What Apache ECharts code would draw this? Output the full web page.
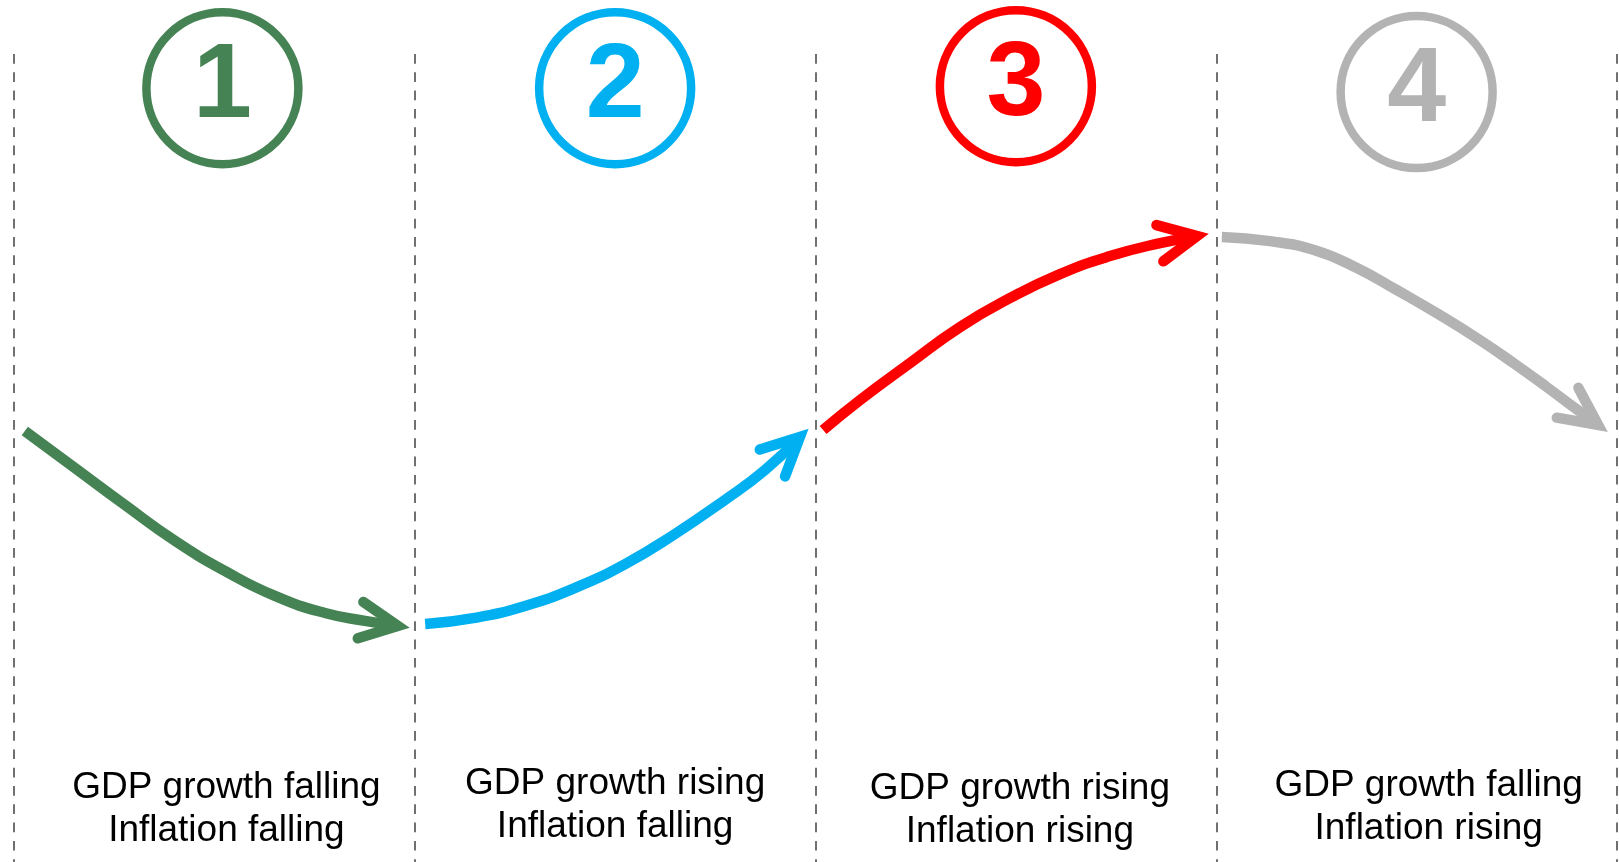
<!DOCTYPE html>
<html>
<head>
<meta charset="utf-8">
<title>Economic cycle phases</title>
<script src="https://cdn.jsdelivr.net/npm/echarts@6/dist/echarts.min.js"></script>
<style>
  html, body { margin: 0; padding: 0; background: #ffffff; }
  #chart { width: 1619px; height: 862px; }
</style>
</head>
<body>
<div id="chart"></div>
<script>
// Phase numbers and captions
const phaseNumbers = ['1', '2', '3', '4'];
const phaseCaptions = [
  'GDP growth falling\nInflation falling',
  'GDP growth rising\nInflation falling',
  'GDP growth rising\nInflation rising',
  'GDP growth falling\nInflation rising'
];

// Cycle path for each phase: [phase position, cycle level] (level +1 = peak, -1 = trough)
const phase1Path = [[0.027, 0.000], [0.152, -0.189], [0.277, -0.378], [0.402, -0.561], [0.526, -0.714],
                    [0.651, -0.842], [0.776, -0.929], [0.876, -0.969], [0.958, -0.995]];
const phase2Path = [[1.026, -0.985], [1.150, -0.954], [1.275, -0.893], [1.400, -0.801], [1.525, -0.679],
                    [1.649, -0.526], [1.774, -0.352], [1.874, -0.199], [1.961, -0.031]];
const phase3Path = [[2.019, 0.005], [2.111, 0.158], [2.236, 0.347], [2.361, 0.531], [2.486, 0.679],
                    [2.610, 0.801], [2.735, 0.893], [2.860, 0.959], [2.952, 0.995]];
const phase4Path = [[3.014, 0.990], [3.134, 0.969], [3.246, 0.923], [3.351, 0.832], [3.451, 0.719],
                    [3.558, 0.592], [3.658, 0.464], [3.745, 0.342], [3.825, 0.224], [3.895, 0.117],
                    [3.953, 0.031]];

// ---- layout & style ----
const COLORS = ['#468354', '#00b0f0', '#ff0000', '#b3b3b3'];
const FONT = "'Liberation Sans', Arial, Helvetica, sans-serif";
const badgePos = [[0.52, 1.75], [1.50, 1.75], [2.50, 1.76], [3.50, 1.73]];
const captionPos = [[0.53, -1.93], [1.50, -1.91], [2.51, -1.935], [3.53, -1.92]];
const paths = [phase1Path, phase2Path, phase3Path, phase4Path];
const STROKE = 10.5;

const chart = echarts.init(document.getElementById('chart'), null, { renderer: 'canvas' });

const hiddenAxis = {
  axisLine: { show: false }, axisTick: { show: false },
  axisLabel: { show: false }, splitLine: { show: false }
};

const series = [];

paths.forEach(function (path, i) {
  // curved stroke of the phase
  series.push({
    type: 'line',
    xAxisIndex: 1, yAxisIndex: 1,
    data: path,
    smooth: 0.5,
    symbol: 'none',
    silent: true,
    clip: false,
    lineStyle: { color: COLORS[i], width: STROKE, cap: 'butt', opacity: 1 },
    z: 3
  });
  // open arrowhead at the end of the phase
  const n = path.length;
  series.push({
    type: 'custom',
    xAxisIndex: 1, yAxisIndex: 1,
    silent: true,
    clip: false,
    z: 4,
    data: [[path[n - 1][0], path[n - 1][1], path[n - 2][0], path[n - 2][1]]],
    renderItem: function (params, api) {
      const tip = api.coord([api.value(0), api.value(1)]);
      const from = api.coord([api.value(2), api.value(3)]);
      const ang = Math.atan2(tip[1] - from[1], tip[0] - from[0]);
      const L = 42, h = 26 * Math.PI / 180;
      const b1 = [tip[0] - L * Math.cos(ang - h), tip[1] - L * Math.sin(ang - h)];
      const b2 = [tip[0] - L * Math.cos(ang + h), tip[1] - L * Math.sin(ang + h)];
      return {
        type: 'polyline',
        shape: { points: [b1, tip, b2] },
        style: { stroke: COLORS[i], fill: null, lineWidth: STROKE, lineCap: 'round', lineJoin: 'miter' }
      };
    }
  });
});

// numbered circles
series.push({
  type: 'scatter',
  xAxisIndex: 1, yAxisIndex: 1,
  silent: true,
  clip: false,
  symbol: 'circle',
  symbolSize: 152,
  z: 5,
  data: phaseNumbers.map(function (num, i) {
    return {
      value: badgePos[i],
      name: num,
      itemStyle: { color: 'rgba(255,255,255,0)', borderColor: COLORS[i], borderWidth: 8.5, opacity: 1 },
      label: { color: COLORS[i] }
    };
  }),
  label: {
    show: true,
    position: 'inside',
    formatter: '{b}',
    fontFamily: FONT,
    fontWeight: 'bold',
    fontSize: 106
  }
});

// captions
series.push({
  type: 'scatter',
  xAxisIndex: 1, yAxisIndex: 1,
  silent: true,
  clip: false,
  symbolSize: 0,
  z: 5,
  itemStyle: { opacity: 1 },
  data: phaseCaptions.map(function (txt, i) {
    return { value: captionPos[i], name: txt };
  }),
  label: {
    show: true,
    position: 'inside',
    formatter: '{b}',
    fontFamily: FONT,
    fontSize: 37,
    lineHeight: 43,
    color: '#000000',
    textBorderWidth: 0,
    align: 'center',
    verticalAlign: 'middle'
  }
});

chart.setOption({
  animation: false,
  backgroundColor: '#ffffff',
  grid: [
    { left: 14, width: 1603, top: 54, bottom: 0 },
    { left: 14, width: 1603, top: 0, bottom: 0 }
  ],
  xAxis: [
    Object.assign({}, hiddenAxis, {
      type: 'value', gridIndex: 0, min: 0, max: 4, interval: 1,
      splitLine: { show: true, lineStyle: { color: '#707070', width: 2, type: [9.7, 8.6] } }
    }),
    Object.assign({}, hiddenAxis, { type: 'value', gridIndex: 1, min: 0, max: 4 })
  ],
  yAxis: [
    Object.assign({}, hiddenAxis, { type: 'value', gridIndex: 0, min: 0, max: 1 }),
    Object.assign({}, hiddenAxis, { type: 'value', gridIndex: 1, min: -2.2, max: 2.2 })
  ],
  series: series
});
</script>
</body>
</html>
